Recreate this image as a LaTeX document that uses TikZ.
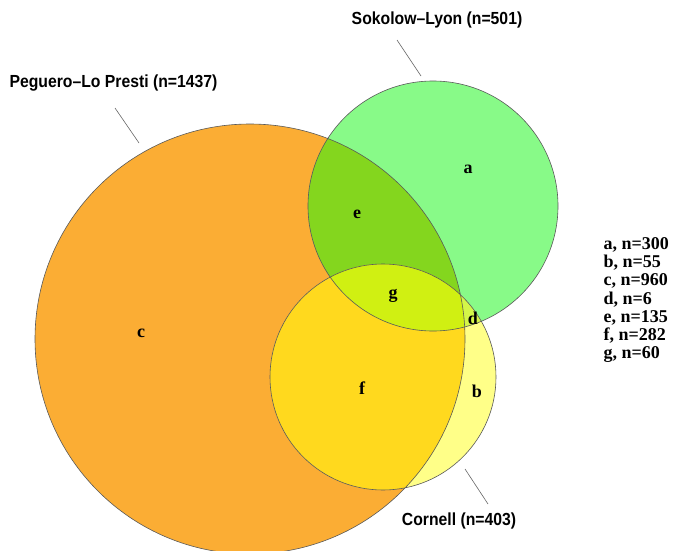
\documentclass[tikz,border=0pt]{standalone}
\usepackage{fontspec}
\setmainfont{Liberation Serif}
\setsansfont{Liberation Sans}

\definecolor{pegueroC}{RGB}{251,173,52}
\definecolor{sokolowC}{RGB}{136,250,136}
\definecolor{cornellC}{RGB}{255,255,136}
\definecolor{pegsokC}{RGB}{132,214,30}
\definecolor{pegcorC}{RGB}{255,217,30}
\definecolor{sokcorC}{RGB}{212,246,72}
\definecolor{allC}{RGB}{208,240,18}

\begin{document}
\begin{tikzpicture}[x=1pt,y=-1pt,
    setlabel/.style={font=\sffamily\bfseries\fontsize{17.5}{20}\selectfont, xscale=0.9},
    region/.style={font=\rmfamily\bfseries\fontsize{18}{20}\selectfont},
    rim/.style={draw=black!65, line width=0.6pt},
    leader/.style={draw=black!60, line width=0.6pt}]
\useasboundingbox (0,0) rectangle (673,551);
\coordinate (P) at (250,339);
\coordinate (S) at (433,206);
\coordinate (C) at (383,377);

% the three sets and their overlaps
\fill[pegueroC] (P) circle (215pt);
\fill[sokolowC] (S) circle (125pt);
\fill[cornellC] (C) circle (113pt);
\begin{scope}
  \clip (P) circle (215pt);
  \fill[pegsokC] (S) circle (125pt);
  \fill[pegcorC] (C) circle (113pt);
\end{scope}
\begin{scope}
  \clip (S) circle (125pt);
  \fill[sokcorC] (C) circle (113pt);
  \clip (P) circle (215pt);
  \fill[allC] (C) circle (113pt);
\end{scope}
\draw[rim] (P) circle (215pt) (S) circle (125pt) (C) circle (113pt);

% set names
\node[setlabel] (peg) at (113.5,83) {Peguero–Lo Presti (n=1437)};
\node[setlabel] (sok) at (437,20) {Sokolow–Lyon (n=501)};
\node[setlabel] (cor) at (459,521) {Cornell (n=403)};
\coordinate (pegtop) at (115,108); \coordinate (pegend) at (139,143);
\coordinate (soktop) at (397,40);  \coordinate (sokend) at (421,76);
\coordinate (cortop) at (465,469); \coordinate (corend) at (488,504);
\draw[leader] (pegtop) -- (pegend);
\draw[leader] (soktop) -- (sokend);
\draw[leader] (cortop) -- (corend);

% regions
\node[region] (a) at (468,169) {a};
\node[region] (b) at (477,391) {b};
\node[region] (c) at (141,333) {c};
\node[region] (d) at (473,318) {d};
\node[region] (e) at (357,214) {e};
\node[region] (f) at (362,388) {f};
\node[region] (g) at (393,296) {g};

\node[region, anchor=west, align=left, font=\rmfamily\bfseries\fontsize{18}{18.3}\selectfont]
  (counts) at (600,300) {a, n=300\\ b, n=55\\ c, n=960\\ d, n=6\\ e, n=135\\ f, n=282\\ g, n=60};
\end{tikzpicture}
\end{document}
